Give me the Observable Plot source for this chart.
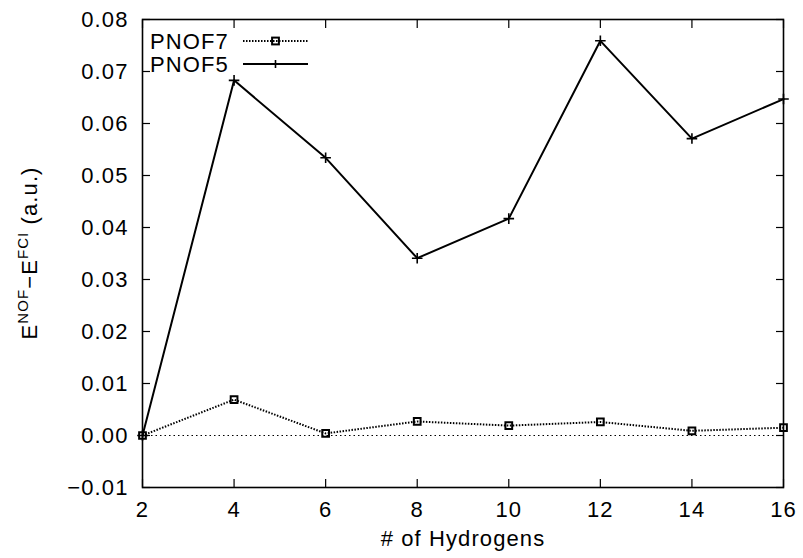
<!DOCTYPE html>
<html><head><meta charset="utf-8">
<script src="https://cdn.jsdelivr.net/npm/d3@7"></script>
<script src="https://cdn.jsdelivr.net/npm/@observablehq/plot@0.6"></script>
<style>
body{margin:0;background:#fff}
svg{font-family:"Liberation Sans",Arial,Helvetica,sans-serif}
</style>
</head><body><div id="chart"></div>
<script>
const hydrogens = [2, 4, 6, 8, 10, 12, 14, 16];
const pnof7 = [0.0000, 0.0069, 0.0004, 0.0027, 0.0019, 0.0026, 0.0009, 0.0015];
const pnof5 = [0.0000, 0.0683, 0.0534, 0.0341, 0.0417, 0.0759, 0.0571, 0.0647];
const xTicks = [2, 4, 6, 8, 10, 12, 14, 16];
const yTicks = [-0.01, 0, 0.01, 0.02, 0.03, 0.04, 0.05, 0.06, 0.07, 0.08];
const seriesNames = ["PNOF7", "PNOF5"];
const xTitle = "# of Hydrogens";

const d7 = hydrogens.map((h, i) => ({x: h, y: pnof7[i]}));
const d5 = hydrogens.map((h, i) => ({x: h, y: pnof5[i]}));

const FS = 22, LS = 1.1;
const fmt = d3.format(".2f");

const plot = Plot.plot({
  width: 803, height: 558,
  marginLeft: 142, marginRight: 20, marginTop: 19, marginBottom: 71,
  style: {fontSize: FS + "px", fontFamily: '"Liberation Sans",Arial,sans-serif', color: "#000", letterSpacing: LS + "px"},
  x: {domain: [2, 16]},
  y: {domain: [-0.01, 0.08]},
  marks: [
    Plot.ruleY([0], {stroke: "#000", strokeWidth: 1, strokeDasharray: "1.5,3"}),
    Plot.axisX(xTicks, {anchor: "bottom", tickSize: 0, tickPadding: 14, label: null}),
    Plot.axisX(xTicks, {anchor: "bottom", tickSize: -8, tickFormat: () => "", label: null, strokeWidth: 1.2}),
    Plot.axisX(xTicks, {anchor: "top", tickSize: -8, tickFormat: () => "", label: null, strokeWidth: 1.2}),
    Plot.axisY(yTicks, {anchor: "left", tickSize: 0, tickPadding: 14, tickFormat: fmt, label: null}),
    Plot.axisY(yTicks, {anchor: "left", tickSize: -8, tickFormat: () => "", label: null, strokeWidth: 1.2}),
    Plot.axisY(yTicks, {anchor: "right", tickSize: -8, tickFormat: () => "", label: null, strokeWidth: 1.2}),
    Plot.line(d7, {x: "x", y: "y", stroke: "#000", strokeWidth: 2, strokeDasharray: "1.5,1.5", strokeLinecap: "butt"}),
    Plot.dot(d7, {x: "x", y: "y", symbol: "square", r: 3.8, stroke: "#000", strokeWidth: 2, fill: "none"}),
    Plot.line(d5, {x: "x", y: "y", stroke: "#000", strokeWidth: 2}),
    Plot.dot(d5, {x: "x", y: "y", symbol: "plus", r: 3.5, stroke: "#000", strokeWidth: 1.6}),
    Plot.text([xTitle], {frameAnchor: "bottom", dy: 58, text: d => d, fontSize: FS, fill: "#000"}),
    Plot.frame({stroke: "#000", strokeWidth: 1.6})
  ]
});

document.getElementById("chart").appendChild(plot);

const svg = d3.select(plot);
// y axis title with superscripts
const yt = svg.append("text")
  .attr("transform", "translate(37,253) rotate(-90)")
  .attr("text-anchor", "middle")
  .attr("font-size", FS)
  .attr("fill", "#000")
  .style("letter-spacing", LS + "px");
yt.append("tspan").text("E");
yt.append("tspan").attr("font-size", 15).attr("dy", -9).text("NOF");
yt.append("tspan").attr("dy", 9).text("\u2212E");
yt.append("tspan").attr("font-size", 15).attr("dy", -9).text("FCI");
yt.append("tspan").attr("dy", 9).text(" (a.u.)");

// legend
const sx = [243, 308], lx = 150;
const leg = svg.append("g");
seriesNames.forEach((name, i) => {
  const y = 41 + i * 23;
  leg.append("text").attr("x", lx).attr("y", y).attr("dy", "0.36em")
    .attr("text-anchor", "start")
    .attr("font-size", FS).attr("fill", "#000").style("letter-spacing", LS + "px").text(name);
  leg.append("line").attr("x1", sx[0]).attr("x2", sx[1]).attr("y1", y).attr("y2", y)
    .attr("stroke", "#000").attr("stroke-width", 2)
    .attr("stroke-dasharray", i === 0 ? "1.5,1.5" : null);
  const cx = (sx[0] + sx[1]) / 2;
  if (i === 0) {
    leg.append("rect").attr("x", cx - 3.4).attr("y", y - 3.4).attr("width", 6.8).attr("height", 6.8)
      .attr("fill", "none").attr("stroke", "#000").attr("stroke-width", 2);
  } else {
    leg.append("path").attr("d", `M${cx-4},${y}H${cx+4}M${cx},${y-4}V${y+4}`)
      .attr("stroke", "#000").attr("stroke-width", 1.6);
  }
});
</script>
</body></html>
